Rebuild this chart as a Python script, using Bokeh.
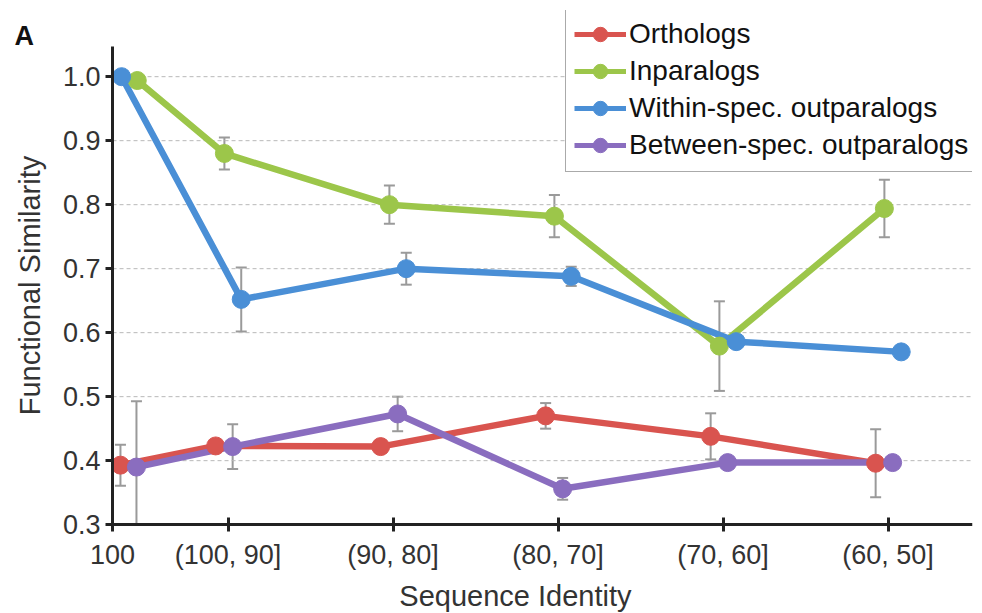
from bokeh.plotting import figure
from bokeh.models import (ColumnDataSource, FixedTicker, Whisker, TeeHead, Legend,
                          LegendItem, Range1d, Label)
from bokeh.embed import file_html
from bokeh.resources import INLINE

# ---------------- data ----------------
categories = ["100", "(100, 90]", "(90, 80]", "(80, 70]", "(70, 60]", "(60, 50]"]
series_names = ["Orthologs", "Inparalogs", "Within-spec. outparalogs", "Between-spec. outparalogs"]

orthologs = [0.393, 0.423, 0.422, 0.470, 0.438, 0.396]
orthologs_err = [0.032, 0.010, 0.010, 0.020, 0.036, 0.053]

inparalogs = [0.994, 0.880, 0.800, 0.782, 0.579, 0.794]
inparalogs_err = [0.0, 0.025, 0.030, 0.033, 0.070, 0.045]

within_out = [1.000, 0.652, 0.700, 0.688, 0.586, 0.570]
within_out_err = [0.0, 0.050, 0.025, 0.015, 0.010, 0.0]

between_out = [0.390, 0.422, 0.473, 0.356, 0.397, 0.397]
between_out_err = [0.103, 0.035, 0.027, 0.017, 0.008, 0.008]

y_ticks = [0.3, 0.4, 0.5, 0.6, 0.7, 0.8, 0.9, 1.0]

# ---------------- layout / style ----------------
cat_pos = [0.0, 0.7, 1.7, 2.7, 3.7, 4.7]
dodge = [-0.075, -0.022, 0.08, 0.028]
first_dodge = [0.048, 0.15, 0.055, 0.145]
colors = ["#d9544f", "#9cc64a", "#4a8fd6", "#8a6dbf"]
values = [orthologs, inparalogs, within_out, between_out]
errors = [orthologs_err, inparalogs_err, within_out_err, between_out_err]

FONT = "Liberation Sans"
X_END = 5.212
Y_LO, Y_AXIS_TOP = 0.3, 1.047

p = figure(width=982, height=613, output_backend="svg", toolbar_location=None,
           x_range=Range1d(-0.679, X_END), y_range=Range1d(0.1612, 1.1034),
           min_border_left=0, min_border_right=10, min_border_top=10,
           min_border_bottom=0)
p.outline_line_color = None
p.background_fill_color = "white"
p.border_fill_color = "white"

p.xgrid.grid_line_color = None
p.ygrid.grid_line_color = None
# horizontal dashed gridlines limited to the plotting area
p.segment(x0=0, x1=X_END, y0=y_ticks[1:], y1=y_ticks[1:], line_color="#b8b8b8",
          line_width=1, line_dash="4 3")

p.yaxis.ticker = FixedTicker(ticks=y_ticks)
p.yaxis.major_label_overrides = {t: f"{t:.1f}" for t in y_ticks}
p.yaxis.fixed_location = 0
p.yaxis.bounds = (Y_LO, Y_AXIS_TOP)
p.xaxis.ticker = FixedTicker(ticks=cat_pos)
p.xaxis.major_label_overrides = {pos: lab for pos, lab in zip(cat_pos, categories)}
p.xaxis.fixed_location = Y_LO
p.xaxis.bounds = (0, X_END)

for ax in (p.xaxis, p.yaxis):
    ax.axis_line_width = 3
    ax.axis_line_color = "#222222"
    ax.major_tick_line_width = 3
    ax.major_tick_line_color = "#222222"
    ax.minor_tick_line_color = None
    ax.major_label_text_font = FONT
    ax.major_label_text_font_size = "27px"
    ax.major_label_text_color = "#333333"
    ax.axis_label_text_font = FONT
    ax.axis_label_text_font_size = "29px"
    ax.axis_label_text_font_style = "normal"
    ax.axis_label_text_color = "#333333"

p.yaxis.major_tick_in = 0
p.yaxis.major_tick_out = 7
p.yaxis.major_label_standoff = 5
p.yaxis.axis_label = "Functional Similarity"
p.yaxis.axis_label_standoff = 14

p.xaxis.major_tick_in = 7
p.xaxis.major_tick_out = 7
p.xaxis.major_label_standoff = 8

sources = []
for s, (vals, errs, col) in enumerate(zip(values, errors, colors)):
    xs = [first_dodge[s]] + [cat_pos[i] + dodge[s] for i in range(1, len(cat_pos))]
    lower = [max(v - e, Y_LO) for v, e in zip(vals, errs)]
    upper = [v + e for v, e in zip(vals, errs)]
    src = ColumnDataSource(dict(x=xs, y=vals, lower=lower, upper=upper))
    sources.append(src)
    w = Whisker(base="x", upper="upper", lower="lower", source=src,
                line_color="#9a9a9a", line_width=2,
                upper_head=TeeHead(size=11, line_color="#9a9a9a", line_width=2),
                lower_head=TeeHead(size=11, line_color="#9a9a9a", line_width=2))
    p.add_layout(w)

for s, col in enumerate(colors):
    p.line("x", "y", source=sources[s], line_color=col, line_width=6.5)
for s, col in enumerate(colors):
    p.scatter("x", "y", source=sources[s], size=18, fill_color=col, line_color=col)

# legend-only glyphs
items = []
for name, col in zip(series_names, colors):
    dsrc = ColumnDataSource(dict(x=[float("nan")], y=[float("nan")]))
    lr = p.line("x", "y", source=dsrc, line_color=col, line_width=5)
    sr = p.scatter("x", "y", source=dsrc, size=7, fill_color=col, line_color=col)
    items.append(LegendItem(label=name, renderers=[lr, sr]))

legend = Legend(items=items, location=(565, 441), margin=0, padding=8,
                spacing=1, label_height=36, glyph_height=36, glyph_width=52,
                label_standoff=3, label_text_font=FONT, label_text_font_size="28px",
                label_text_color="#111111", border_line_color="#555555",
                border_line_width=1.5, background_fill_alpha=1.0)
p.add_layout(legend)

# panel letter and x-axis title
p.add_layout(Label(x=-0.594, y=1.0865, text="A", text_font=FONT, text_font_size="27px",
                   text_font_style="bold", text_color="#111111", text_baseline="top"))
p.add_layout(Label(x=2.442, y=0.2130, text="Sequence Identity", text_font=FONT,
                   text_font_size="29px", text_color="#333333", text_align="center",
                   text_baseline="top"))

open("out.html", "w").write(file_html(p, INLINE))
